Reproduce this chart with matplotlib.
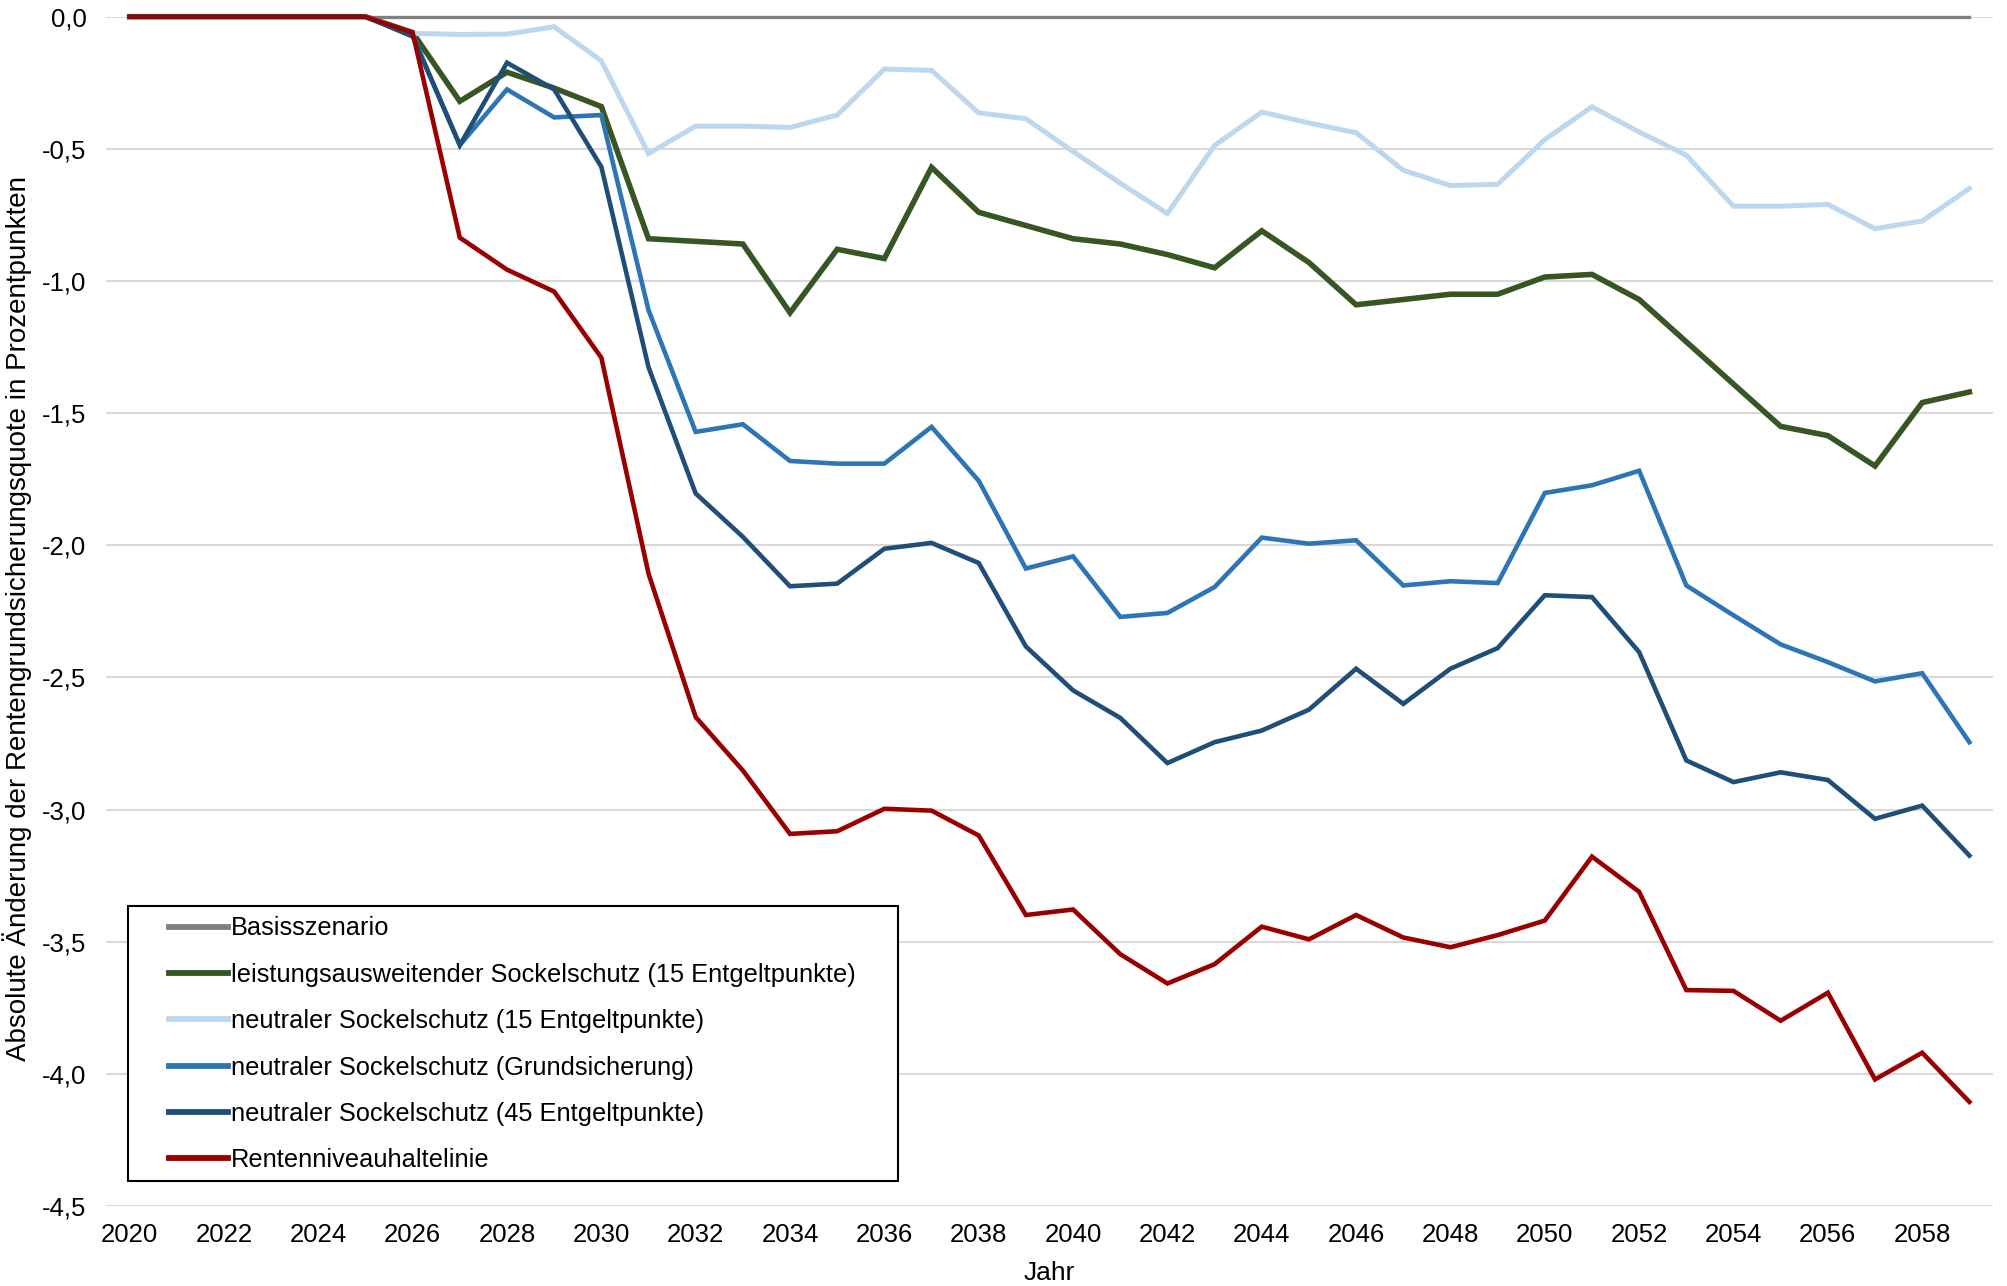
import matplotlib
matplotlib.use("Agg")
import matplotlib.pyplot as plt
from matplotlib.patches import Rectangle

plt.rcParams['font.family'] = ['Liberation Sans', 'DejaVu Sans']

years = list(range(2020, 2060))

basis = [0.0, 0.0, 0.0, 0.0, 0.0, 0.0, 0.0, 0.0, 0.0, 0.0,
         0.0, 0.0, 0.0, 0.0, 0.0, 0.0, 0.0, 0.0, 0.0, 0.0,
         0.0, 0.0, 0.0, 0.0, 0.0, 0.0, 0.0, 0.0, 0.0, 0.0,
         0.0, 0.0, 0.0, 0.0, 0.0, 0.0, 0.0, 0.0, 0.0, 0.0]

leistung_15 = [0.0, 0.0, 0.0, 0.0, 0.0, 0.0,
               -0.06, -0.32, -0.21, -0.27, -0.34,
               -0.84, -0.85, -0.86, -1.12, -0.88,
               -0.915, -0.57, -0.74, -0.79, -0.84,
               -0.86, -0.90, -0.95, -0.81, -0.93,
               -1.09, -1.07, -1.05, -1.05, -0.985,
               -0.975, -1.07, -1.23, -1.39, -1.55,
               -1.585, -1.70, -1.46, -1.42]

neutral_15 = [0.0, 0.0, 0.0, 0.0, 0.0, 0.0,
              -0.063, -0.067, -0.066, -0.038, -0.167,
              -0.518, -0.414, -0.414, -0.419, -0.372,
              -0.198, -0.203, -0.364, -0.386, -0.51,
              -0.63, -0.745, -0.487, -0.361, -0.402,
              -0.439, -0.581, -0.639, -0.634, -0.465,
              -0.341, -0.436, -0.524, -0.717, -0.717,
              -0.710, -0.802, -0.773, -0.650]

neutral_gs = [0.0, 0.0, 0.0, 0.0, 0.0, 0.0,
              -0.07, -0.486, -0.275, -0.381, -0.372,
              -1.11, -1.571, -1.542, -1.681, -1.691,
              -1.691, -1.552, -1.756, -2.088, -2.042,
              -2.271, -2.256, -2.158, -1.971, -1.994,
              -1.981, -2.152, -2.136, -2.143, -1.802,
              -1.773, -1.718, -2.152, -2.265, -2.375,
              -2.442, -2.515, -2.484, -2.745]

neutral_45 = [0.0, 0.0, 0.0, 0.0, 0.0, 0.0,
              -0.075, -0.486, -0.174, -0.275, -0.568,
              -1.326, -1.804, -1.968, -2.155, -2.145,
              -2.013, -1.991, -2.067, -2.383, -2.549,
              -2.653, -2.824, -2.745, -2.701, -2.622,
              -2.467, -2.600, -2.467, -2.389, -2.189,
              -2.196, -2.404, -2.814, -2.896, -2.859,
              -2.888, -3.035, -2.985, -3.174]

haltelinie = [0.0, 0.0, 0.0, 0.0, 0.0, 0.0,
              -0.06, -0.836, -0.957, -1.04, -1.29,
              -2.107, -2.650, -2.852, -3.092, -3.082,
              -2.997, -3.004, -3.098, -3.399, -3.378,
              -3.547, -3.658, -3.585, -3.443, -3.491,
              -3.399, -3.484, -3.521, -3.475, -3.420,
              -3.178, -3.311, -3.683, -3.686, -3.799,
              -3.693, -4.021, -3.920, -4.106]

labels = ["Basisszenario",
          "leistungsausweitender Sockelschutz (15 Entgeltpunkte)",
          "neutraler Sockelschutz (15 Entgeltpunkte)",
          "neutraler Sockelschutz (Grundsicherung)",
          "neutraler Sockelschutz (45 Entgeltpunkte)",
          "Rentenniveauhaltelinie"]
series = [basis, leistung_15, neutral_15, neutral_gs, neutral_45, haltelinie]
colors = ["#808080", "#375623", "#bdd7ee", "#2e75b6", "#1f4e79", "#990000"]
widths = [2.4, 4.0, 3.6, 3.3, 3.3, 3.3]

fig = plt.figure(figsize=(20.08, 12.86), dpi=100)
ax = fig.add_axes([0.0528, 0.0622, 0.9397, 0.9248])

for vals, lab, col, lw in zip(series, labels, colors, widths):
    ax.plot(years, vals, color=col, lw=lw, label=lab, solid_joinstyle='miter',
            zorder=3, clip_on=False)

ax.set_xlim(2019.5, 2059.5)
ax.set_ylim(-4.5, 0)
yt = [0.0, -0.5, -1.0, -1.5, -2.0, -2.5, -3.0, -3.5, -4.0, -4.5]
ax.set_yticks(yt)
ax.set_yticklabels([f"{v:.1f}".replace(".", ",") for v in yt])
ax.set_xticks(years[::2])
ax.tick_params(axis='both', length=0, labelsize=18.5, colors='black')
ax.tick_params(axis='y', pad=14)
ax.tick_params(axis='x', pad=12)
ax.grid(axis='y', color='#d9d9d9', lw=1.5, zorder=0)
ax.set_axisbelow(True)
for s in ax.spines.values():
    s.set_visible(False)

fig.text(0.0085, 0.519, "Absolute Änderung der Rentengrundsicherungsquote in Prozentpunkten",
         rotation=90, ha='center', va='center', fontsize=20)
fig.text(0.5225, 0.0101, "Jahr", ha='center', va='center', fontsize=19)

# legend frame drawn separately
ax.add_patch(Rectangle((0.0117, 0.021), 0.408, 0.231, transform=ax.transAxes,
                       facecolor='white', edgecolor='black', lw=1.5, zorder=4, clip_on=False))
leg = ax.legend(loc='upper left', bbox_to_anchor=(0.0334, 0.2435), frameon=False,
                fontsize=18.3, handlelength=2.3, handletextpad=0.12, labelspacing=0.88,
                borderpad=0, borderaxespad=0)
leg.set_zorder(5)
for h in leg.get_lines():
    h.set_linewidth(4.2)

fig.savefig("out.png", dpi=100)
